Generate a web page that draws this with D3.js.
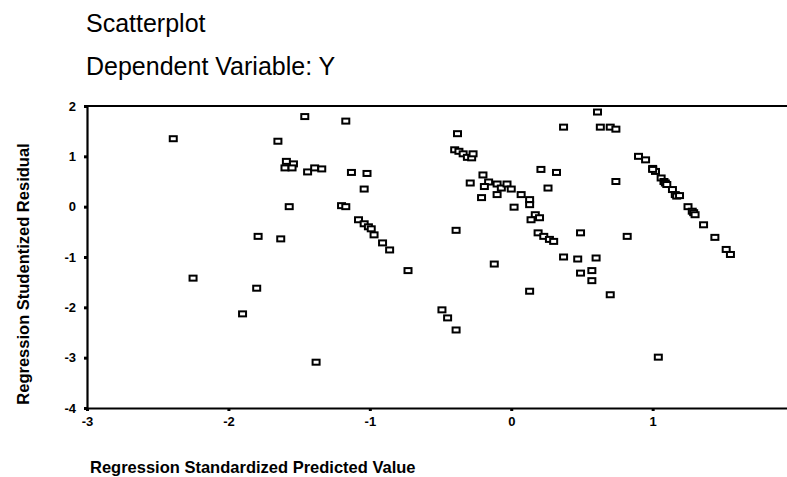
<!DOCTYPE html>
<html>
<head>
<meta charset="utf-8">
<script src="https://cdn.jsdelivr.net/npm/d3@7"></script>
<style>
    body { margin: 0; background: #fff; }
    svg { display: block; font-family: Arial, 'Liberation Sans', sans-serif; }
</style>
</head>
<body>
<svg id="chart" width="787" height="477"></svg>
<script>
// predicted values (x) and studentized residuals (y)
const predicted = [
    -2.39, -2.25, -1.90, -1.80, -1.79, -1.65, -1.63, -1.59, -1.54, -1.60,
    -1.55, -1.57, -1.46, -1.44, -1.39, -1.34, -1.38, -1.17, -1.13, -1.02,
    -1.04, -1.20, -1.17, -1.08, -1.04, -1.01, -0.99, -0.97, -0.91, -0.86,
    -0.73,
    -0.49, -0.45, -0.39, -0.39, -0.38, -0.40, -0.37, -0.34, -0.31, -0.28,
    -0.27, -0.29, -0.20, -0.16, -0.19, -0.10, -0.07, -0.03, 0.00, -0.10,
    -0.21, 0.07, 0.13, 0.13, 0.02, 0.17, 0.20, 0.14, -0.12, 0.21,
    0.32, 0.26, 0.19, 0.23, 0.27, 0.30, 0.13, 0.37, 0.37, 0.47,
    0.49, 0.49, 0.57, 0.57, 0.60, 0.61, 0.63, 0.70, 0.74, 0.70,
    0.74, 0.82,
    0.90, 0.95, 1.00, 1.02, 1.00, 1.06, 1.08, 1.09, 1.10, 1.14,
    1.16, 1.17, 1.19, 1.25, 1.28, 1.29, 1.30, 1.36, 1.44, 1.52,
    1.55, 1.04
];
const residual = [
    1.35, -1.42, -2.13, -1.62, -0.59, 1.30, -0.64, 0.90, 0.85, 0.77,
    0.77, 0.00, 1.79, 0.69, 0.77, 0.75, -3.09, 1.70, 0.68, 0.66,
    0.35, 0.02, 0.00, -0.26, -0.34, -0.40, -0.44, -0.56, -0.72, -0.86,
    -1.27,
    -2.05, -2.21, -2.45, -0.47, 1.45, 1.13, 1.10, 1.05, 0.98, 0.97,
    1.05, 0.47, 0.63, 0.49, 0.40, 0.45, 0.37, 0.45, 0.35, 0.24,
    0.18, 0.24, 0.14, 0.04, -0.01, -0.16, -0.22, -0.26, -1.14, 0.74,
    0.68, 0.37, -0.52, -0.59, -0.65, -0.69, -1.68, 1.58, -1.00, -1.04,
    -0.52, -1.32, -1.27, -1.47, -1.02, 1.88, 1.58, 1.58, 1.54, -1.75,
    0.50, -0.59,
    1.00, 0.93, 0.76, 0.70, 0.74, 0.57, 0.50, 0.47, 0.44, 0.34,
    0.24, 0.21, 0.22, 0.00, -0.09, -0.12, -0.16, -0.36, -0.61, -0.85,
    -0.95, -2.99
];
const xTicks = [-3, -2, -1, 0, 1];
const yTicks = [2, 1, 0, -1, -2, -3, -4];

const svg = d3.select('#chart');
const plotLeft = 87, plotRight = 787, plotTop = 106, plotBottom = 408;

const x = d3.scaleLinear().domain([-3, 1.95]).range([plotLeft, plotRight]);
const y = d3.scaleLinear().domain([-4, 2]).range([plotBottom, plotTop]);

// titles
svg.append('text')
    .attr('x', 86).attr('y', 32)
    .attr('font-size', 25)
    .text('Scatterplot');
svg.append('text')
    .attr('x', 86).attr('y', 75)
    .attr('font-size', 25)
    .text('Dependent Variable: Y');

// frame: top line, left axis, bottom axis
svg.append('line')
    .attr('x1', plotLeft).attr('x2', plotRight)
    .attr('y1', plotTop).attr('y2', plotTop)
    .attr('stroke', '#000').attr('stroke-width', 2.2);

// plain hyphen for negatives, like the original
const fmt = (d) => String(d);

const xAxis = svg.append('g')
    .attr('transform', `translate(0,${plotBottom})`)
    .call(d3.axisBottom(x).tickValues(xTicks).tickSize(3).tickSizeOuter(0).tickFormat(fmt));
const yAxis = svg.append('g')
    .attr('transform', `translate(${plotLeft},0)`)
    .call(d3.axisLeft(y).tickValues(yTicks).tickSize(3).tickSizeOuter(0).tickFormat(fmt));

[xAxis, yAxis].forEach((g) => {
    g.select('.domain').attr('stroke', '#000').attr('stroke-width', 2.2);
    g.selectAll('.tick line').attr('stroke', '#000').attr('stroke-width', 3);
    g.selectAll('.tick text')
        .attr('fill', '#000')
        .attr('font-size', 13)
        .attr('font-weight', 'bold')
        .attr('font-family', 'Arial, Liberation Sans, sans-serif');
});
xAxis.selectAll('.tick text').attr('dy', '0.95em');
yAxis.selectAll('.tick text').attr('x', -11);

// axis titles
svg.append('text')
    .attr('x', 90).attr('y', 473)
    .attr('font-size', 16.5)
    .attr('font-weight', 'bold')
    .text('Regression Standardized Predicted Value');
svg.append('text')
    .attr('transform', 'translate(29,274) rotate(-90)')
    .attr('text-anchor', 'middle')
    .attr('font-size', 16.5)
    .attr('font-weight', 'bold')
    .text('Regression Studentized Residual');

// points
const points = predicted.map((p, i) => ({ p, r: residual[i] }));
svg.append('g')
    .selectAll('rect')
    .data(points)
    .enter()
    .append('rect')
    .attr('x', (d) => x(d.p) - 3.5)
    .attr('y', (d) => y(d.r) - 2.5)
    .attr('width', 7)
    .attr('height', 5)
    .attr('fill', '#fff')
    .attr('stroke', '#000')
    .attr('stroke-width', 2);
</script>
</body>
</html>
